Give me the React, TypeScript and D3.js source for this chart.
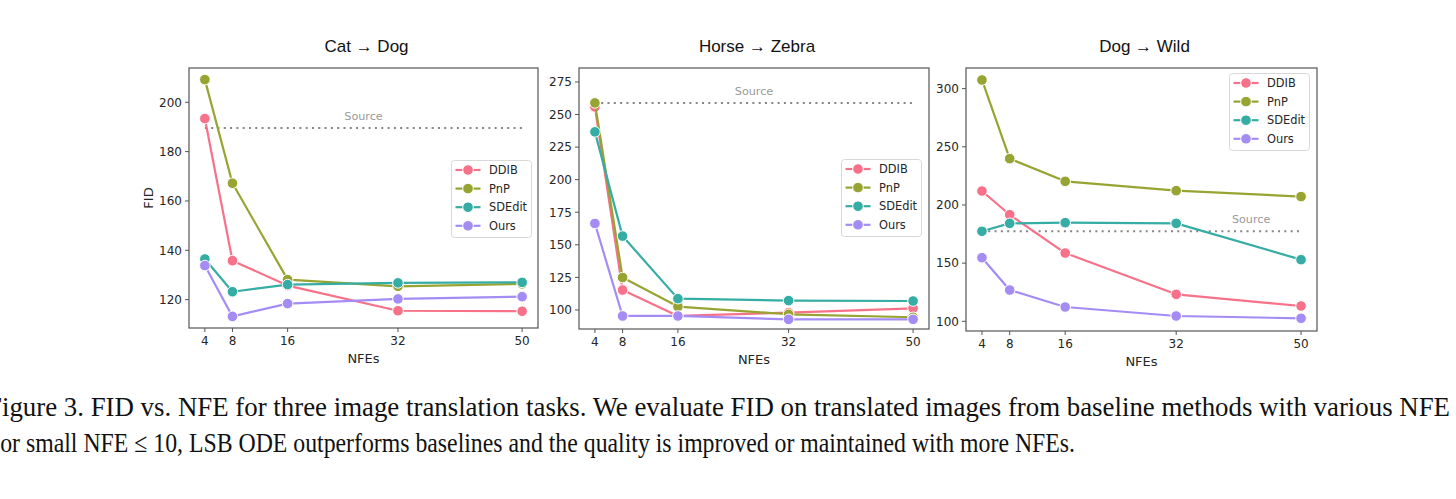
import React from "react";
import * as d3 from "d3";

const nfes = [4, 8, 16, 32, 50];
const methods = ["DDIB", "PnP", "SDEdit", "Ours"];
const colors = ["#f77189", "#97a431", "#36ada4", "#a48cf4"];

const titles = ["Cat → Dog", "Horse → Zebra", "Dog → Wild"];

// Cat -> Dog
const catDog = {
  DDIB: [193.4, 135.8, 125.7, 115.5, 115.3],
  PnP: [209.2, 167.2, 128.1, 125.4, 126.4],
  SDEdit: [136.5, 123.2, 126.1, 126.8, 127.0],
  Ours: [133.8, 113.2, 118.4, 120.3, 121.2],
};
// Horse -> Zebra
const horseZebra = {
  DDIB: [255.8, 115.3, 95.4, 98.0, 101.3],
  PnP: [258.9, 124.9, 102.6, 96.7, 94.4],
  SDEdit: [236.7, 156.7, 108.7, 107.2, 106.9],
  Ours: [166.4, 95.4, 95.4, 92.8, 92.8],
};
// Dog -> Wild
const dogWild = {
  DDIB: [212.0, 191.6, 158.7, 123.2, 113.2],
  PnP: [307.4, 239.8, 220.3, 212.3, 207.2],
  SDEdit: [177.4, 184.2, 184.8, 184.2, 153.0],
  Ours: [154.7, 126.9, 112.3, 104.6, 102.6],
};
const panelData = [catDog, horseZebra, dogWild];
const sourceValues = [189.6, 258.9, 177.4];
const sourceLabelX = [27, 27, 42.8];
const yTicks = [
  [120, 140, 160, 180, 200],
  [100, 125, 150, 175, 200, 225, 250, 275],
  [100, 150, 200, 250, 300],
];
const yDomains = [
  [108.5, 213.9],
  [85.4, 285.7],
  [91.7, 317.7],
];

const captionLines = [
  "Figure 3. FID vs. NFE for three image translation tasks. We evaluate FID on translated images from baseline methods with various NFE",
  "For small NFE ≤ 10, LSB ODE outperforms baselines and the quality is improved or maintained with more NFEs.",
];

const frames = [
  { left: 189, right: 538, top: 68, bottom: 328 },
  { left: 579, right: 929, top: 68, bottom: 329 },
  { left: 966, right: 1317, top: 68, bottom: 331 },
];
const legendPos = [
  { x: 451.5, y: 160.5 },
  { x: 841.5, y: 159.5 },
  { x: 1229.5, y: 73.5 },
];

const tickFont = "'DejaVu Sans', sans-serif";

function Panel({ idx }: { idx: number }) {
  const f = frames[idx];
  const x = d3.scaleLinear().domain([1.7, 52.3]).range([f.left, f.right]);
  const y = d3.scaleLinear().domain(yDomains[idx]).range([f.bottom, f.top]);
  const data = panelData[idx] as Record<string, number[]>;
  const line = d3
    .line<number>()
    .x((_, i) => x(nfes[i]))
    .y((v) => y(v));
  const src = sourceValues[idx];
  const lg = legendPos[idx];
  const cx = (f.left + f.right) / 2;
  return (
    <g>
      <text x={cx + 3} y={52} textAnchor="middle" fontFamily="'Liberation Sans', Arial, sans-serif" fontSize={17} fill="#111">
        {titles[idx]}
      </text>
      {/* source line */}
      <line x1={x(4)} x2={x(50)} y1={y(src)} y2={y(src)} stroke="#858585" strokeWidth={2} strokeDasharray="2 4.3" />
      <text x={x(sourceLabelX[idx])} y={y(src) - 8} textAnchor="middle" fontFamily={tickFont} fontSize={11.2} fill="#9a9a9a">
        Source
      </text>
      {methods.map((m, k) => (
        <g key={m}>
          <path d={line(data[m]) || ""} fill="none" stroke={colors[k]} strokeWidth={2.2} strokeLinejoin="round" />
          {data[m].map((v, i) => (
            <circle key={i} cx={x(nfes[i])} cy={y(v)} r={5.3} fill={colors[k]} stroke="#fff" strokeWidth={1} />
          ))}
        </g>
      ))}
      {/* frame */}
      <rect x={f.left} y={f.top} width={f.right - f.left} height={f.bottom - f.top} fill="none" stroke="#555" strokeWidth={1.2} />
      {/* x ticks */}
      {nfes.map((t) => (
        <g key={t}>
          <line x1={x(t)} x2={x(t)} y1={f.bottom} y2={f.bottom + 4} stroke="#555" strokeWidth={1} />
          <text x={x(t)} y={f.bottom + 17} textAnchor="middle" fontFamily={tickFont} fontSize={12} fill="#262626">
            {t}
          </text>
        </g>
      ))}
      {yTicks[idx].map((t) => (
        <g key={t}>
          <line x1={f.left - 4} x2={f.left} y1={y(t)} y2={y(t)} stroke="#555" strokeWidth={1} />
          <text x={f.left - 7} y={y(t) + 4.3} textAnchor="end" fontFamily={tickFont} fontSize={12} fill="#262626">
            {t}
          </text>
        </g>
      ))}
      <text x={cx} y={f.bottom + 35} textAnchor="middle" fontFamily={tickFont} fontSize={13} fill="#262626">
        NFEs
      </text>
      {idx === 0 && (
        <text
          transform={`translate(${152.5},${(f.top + f.bottom) / 2}) rotate(-90)`}
          textAnchor="middle"
          fontFamily={tickFont}
          fontSize={13}
          fill="#262626"
        >
          FID
        </text>
      )}
      {/* legend */}
      <g transform={`translate(${lg.x},${lg.y})`}>
        <rect x={0} y={0} width={80} height={77} rx={3} fill="#fff" fillOpacity={0.85} stroke="#d8d8d8" strokeWidth={1} />
        {methods.map((m, k) => (
          <g key={m} transform={`translate(0,${9.5 + k * 18.6})`}>
            <line x1={4} x2={29} y1={0} y2={0} stroke={colors[k]} strokeWidth={2.2} />
            <circle cx={16.5} cy={0} r={5.3} fill={colors[k]} stroke="#fff" strokeWidth={1} />
            <text x={37.5} y={4} fontFamily={tickFont} fontSize={11.4} fill="#262626">
              {m}
            </text>
          </g>
        ))}
      </g>
    </g>
  );
}

export default function App() {
  return (
    <svg
      width={1456}
      height={499}
      style={{ position: "absolute", left: 0, top: 0, background: "#fff" }}
    >
      <rect x={0} y={0} width={1456} height={499} fill="#fff" />
      {[0, 1, 2].map((i) => (
        <Panel key={i} idx={i} />
      ))}
      <text x={-13} y={416} fontFamily="'Liberation Serif', 'Times New Roman', serif" fontSize={27.5} fill="#111" textLength={1463} lengthAdjust="spacingAndGlyphs">
        {captionLines[0]}
      </text>
      <text x={-13} y={452} fontFamily="'Liberation Serif', 'Times New Roman', serif" fontSize={27.5} fill="#111" textLength={1088} lengthAdjust="spacingAndGlyphs">
        {captionLines[1]}
      </text>
    </svg>
  );
}
